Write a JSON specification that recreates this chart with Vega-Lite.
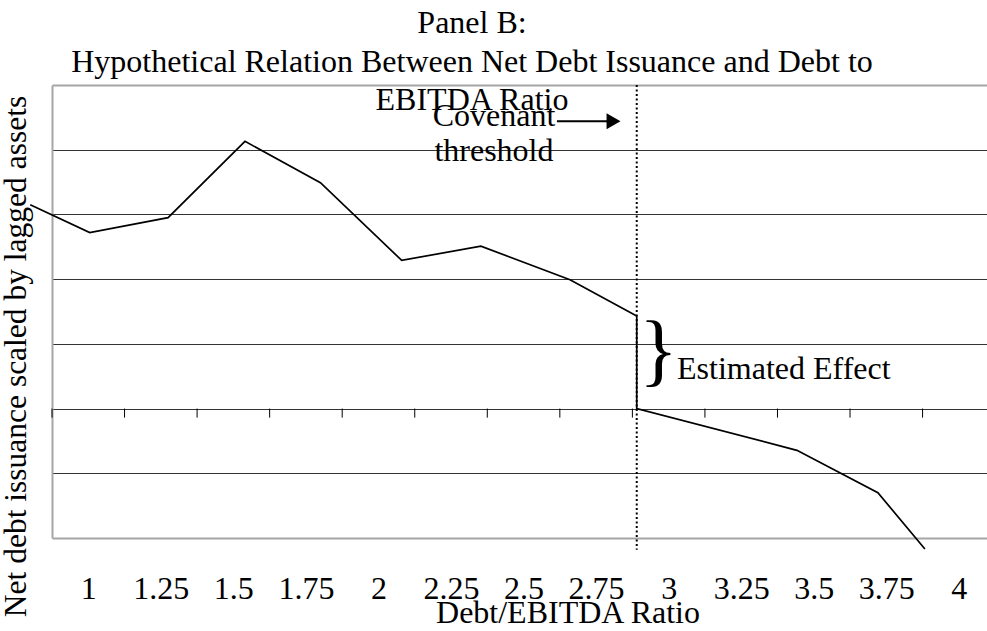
{
  "$schema": "https://vega.github.io/schema/vega-lite/v6.json",
  "autosize": {"type": "none"},
  "padding": {"left": 52, "top": 85, "right": 0, "bottom": 93},
  "width": 935,
  "height": 453,
  "config": {
    "font": "Liberation Serif",
    "view": {"stroke": null},
    "text": {"font": "Liberation Serif", "fontSize": 32, "color": "black"}
  },
  "title": {
    "text": ["Panel B:", "Hypothetical Relation Between Net Debt Issuance and Debt to", "EBITDA Ratio"],
    "font": "Liberation Serif",
    "fontSize": 32,
    "fontWeight": "normal",
    "color": "black",
    "anchor": "middle",
    "frame": "group",
    "lineHeight": 38.5,
    "baseline": "alphabetic",
    "offset": -58,
    "dx": -47.5
  },
  "datasets": {
    "curve": [
      {"seq": 1, "ratio": 0.80, "issuance": 3.15},
      {"seq": 2, "ratio": 1.005, "issuance": 2.72},
      {"seq": 3, "ratio": 1.275, "issuance": 2.95},
      {"seq": 4, "ratio": 1.54, "issuance": 4.13},
      {"seq": 5, "ratio": 1.80, "issuance": 3.49},
      {"seq": 6, "ratio": 2.08, "issuance": 2.29},
      {"seq": 7, "ratio": 2.353, "issuance": 2.51},
      {"seq": 8, "ratio": 2.66, "issuance": 1.99},
      {"seq": 9, "ratio": 2.89, "issuance": 1.43},
      {"seq": 10, "ratio": 2.89, "issuance": 0},
      {"seq": 11, "ratio": 3.442, "issuance": -0.645},
      {"seq": 12, "ratio": 3.721, "issuance": -1.30},
      {"seq": 13, "ratio": 3.883, "issuance": -2.17}
    ],
    "boundaries": [
      {"ratio": 0.875}, {"ratio": 1.125}, {"ratio": 1.375}, {"ratio": 1.625},
      {"ratio": 1.875}, {"ratio": 2.125}, {"ratio": 2.375}, {"ratio": 2.625},
      {"ratio": 2.875}, {"ratio": 3.125}, {"ratio": 3.375}, {"ratio": 3.625},
      {"ratio": 3.875}
    ],
    "covenant": [{"ratio": 2.89}],
    "arrow": [{"ratio": 2.615, "ratio_end": 2.79, "issuance": 4.44, "head": 2.81}],
    "labels_center": [
      {"ratio": 2.398, "issuance": 4.374, "label": "Covenant"},
      {"ratio": 2.398, "issuance": 3.818, "label": "threshold"}
    ],
    "brace": [{"ratio": 2.965, "issuance": 0.51, "label": "}"}],
    "effect": [{"ratio": 3.029, "issuance": 0.464, "label": "Estimated Effect"}]
  },
  "layer": [
    {
      "data": {"name": "curve"},
      "mark": {"type": "line", "color": "black", "strokeWidth": 1.7},
      "encoding": {
        "x": {
          "field": "ratio",
          "type": "quantitative",
          "scale": {"domain": [0.875, 4.097], "nice": false, "zero": false},
          "axis": {
            "orient": "bottom",
            "values": [1, 1.25, 1.5, 1.75, 2, 2.25, 2.5, 2.75, 3, 3.25, 3.5, 3.75, 4],
            "labelExpr": "'' + datum.value",
            "grid": false,
            "ticks": false,
            "tickSize": 0,
            "domain": true,
            "domainColor": "#a6a6a6",
            "domainWidth": 2,
            "labelFont": "Liberation Serif",
            "labelFontSize": 32,
            "labelColor": "black",
            "labelPadding": 60,
            "labelBaseline": "alphabetic",
            "labelFlush": false,
            "labelOverlap": false,
            "labelBound": false,
            "title": "Debt/EBITDA Ratio",
            "titleFont": "Liberation Serif",
            "titleFontSize": 32,
            "titleFontWeight": "normal",
            "titleColor": "black",
            "titleX": 515.5,
            "titleY": 84,
            "titleAlign": "center",
            "titleBaseline": "alphabetic"
          }
        },
        "y": {
          "field": "issuance",
          "type": "quantitative",
          "scale": {"domain": [-2, 5], "nice": false, "zero": false},
          "axis": {
            "orient": "left",
            "values": [-1, 0, 1, 2, 3, 4, 5],
            "grid": true,
            "gridColor": {"condition": {"test": "datum.value === 5", "value": "#a6a6a6"}, "value": "#333333"},
            "gridWidth": {"condition": {"test": "datum.value === 5", "value": 2}, "value": 1},
            "labels": false,
            "ticks": false,
            "domain": true,
            "domainColor": "#a6a6a6",
            "domainWidth": 2,
            "title": "Net debt issuance scaled by lagged assets",
            "titleFont": "Liberation Serif",
            "titleFontSize": 31.5,
            "titleFontWeight": "normal",
            "titleColor": "black",
            "titleAngle": 270,
            "titleX": -27,
            "titleY": 271,
            "titleAlign": "center",
            "titleBaseline": "alphabetic"
          }
        },
        "order": {"field": "seq", "type": "quantitative"}
      }
    },
    {
      "data": {"name": "boundaries"},
      "mark": {"type": "rule", "color": "black", "strokeWidth": 1},
      "encoding": {
        "x": {"field": "ratio", "type": "quantitative", "scale": {"domain": [0.875, 4.097], "nice": false, "zero": false}},
        "y": {"datum": 0, "type": "quantitative", "scale": {"domain": [-2, 5], "nice": false, "zero": false}},
        "y2": {"datum": -0.14}
      }
    },
    {
      "data": {"name": "covenant"},
      "mark": {"type": "rule", "color": "black", "strokeWidth": 2, "strokeDash": [2, 2.5]},
      "encoding": {
        "x": {"field": "ratio", "type": "quantitative"},
        "y": {"datum": 5, "type": "quantitative"},
        "y2": {"datum": -2.18}
      }
    },
    {
      "data": {"name": "arrow"},
      "mark": {"type": "rule", "color": "black", "strokeWidth": 2},
      "encoding": {
        "x": {"field": "ratio", "type": "quantitative"},
        "x2": {"field": "ratio_end"},
        "y": {"field": "issuance", "type": "quantitative"}
      }
    },
    {
      "data": {"name": "arrow"},
      "mark": {"type": "point", "shape": "triangle-right", "filled": true, "color": "black", "size": 260, "opacity": 1},
      "encoding": {
        "x": {"field": "head", "type": "quantitative"},
        "y": {"field": "issuance", "type": "quantitative"}
      }
    },
    {
      "data": {"name": "labels_center"},
      "mark": {"type": "text", "align": "center", "baseline": "alphabetic", "fontSize": 32, "color": "black"},
      "encoding": {
        "x": {"field": "ratio", "type": "quantitative"},
        "y": {"field": "issuance", "type": "quantitative"},
        "text": {"field": "label"}
      }
    },
    {
      "data": {"name": "brace"},
      "mark": {"type": "text", "align": "center", "baseline": "alphabetic", "fontSize": 80, "color": "black"},
      "encoding": {
        "x": {"field": "ratio", "type": "quantitative"},
        "y": {"field": "issuance", "type": "quantitative"},
        "text": {"field": "label"}
      }
    },
    {
      "data": {"name": "effect"},
      "mark": {"type": "text", "align": "left", "baseline": "alphabetic", "fontSize": 32, "color": "black"},
      "encoding": {
        "x": {"field": "ratio", "type": "quantitative"},
        "y": {"field": "issuance", "type": "quantitative"},
        "text": {"field": "label"}
      }
    }
  ]
}
